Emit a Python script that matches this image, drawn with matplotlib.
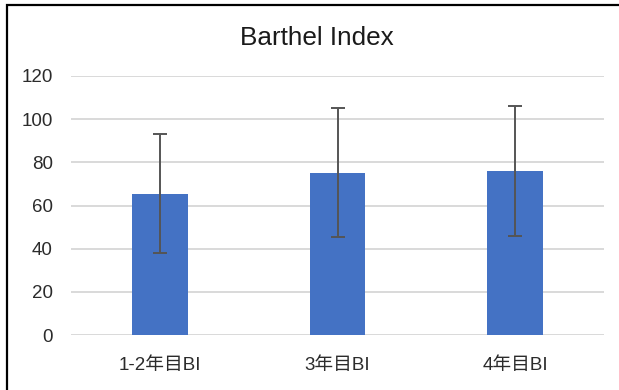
import numpy as np
import matplotlib.pyplot as plt
from matplotlib.patches import Rectangle

# Barthel Index mean and SD per period
categories = ['1-2年目BI', '3年目BI', '4年目BI']
means = [65.5, 75.1, 75.9]
sds = [27.6, 29.9, 30.0]
yticks = [0, 20, 40, 60, 80, 100, 120]

FONT = ['Liberation Sans', 'Noto Sans CJK JP', 'DejaVu Sans']
plt.rcParams['font.family'] = FONT

fig = plt.figure(figsize=(6.19, 3.90), dpi=100)
ax = fig.add_axes([71 / 619, 1 - 335 / 390, 533 / 619, 259 / 390])

x = np.arange(len(categories))
ax.bar(x, means, width=0.315, color='#4472C4', zorder=3)
ax.errorbar(x, means, yerr=sds, fmt='none', ecolor='#555555',
            elinewidth=1.4, capsize=5, capthick=1.4, zorder=4)

ax.set_xlim(-0.5, len(categories) - 0.5)
ax.set_ylim(0, 120)
ax.set_yticks(yticks)
ax.set_xticks(x)
ax.set_xticklabels(categories)
ax.yaxis.grid(True, color='#D9D9D9', lw=1.4, zorder=0)
ax.set_axisbelow(True)
for s in ax.spines.values():
    s.set_visible(False)
ax.tick_params(axis='both', length=0, labelsize=13.5, colors='#2b2b2b')
ax.tick_params(axis='y', pad=13)
ax.tick_params(axis='x', pad=16)

fig.text(317 / 619, 1 - 38 / 390, 'Barthel Index', ha='center', va='center',
         fontsize=18.8, color='#1a1a1a')

# chart frame (cut off at right/bottom in the source)
fig.add_artist(Rectangle((7 / 619, -0.5), 2, 1.5 - 4.5 / 390,
                         transform=fig.transFigure, fill=False,
                         edgecolor='black', lw=1.6, clip_on=False))

fig.savefig('out.png', dpi=100)
